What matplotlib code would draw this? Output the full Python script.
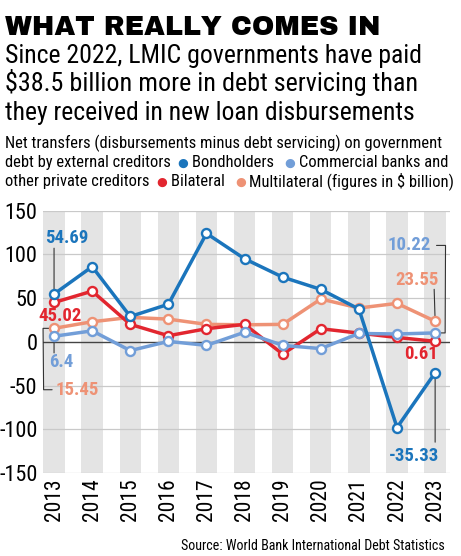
import matplotlib
matplotlib.use("Agg")
import matplotlib.pyplot as plt
from matplotlib import font_manager

# --- data (US$ billion) ---
years = list(range(2013, 2024))
bondholders = [54.69, 86, 29, 43, 124, 95, 74, 60, 37.5, -98, -35.33]
commercial = [6.4, 12.6, -10, 0.5, -4, 11, -4, -7.7, 9.6, 9, 10.22]
bilateral = [45.02, 58, 20, 7, 15, 20, -14, 15, 10, 5, 0.61]
multilateral = [15.45, 23, 28, 26, 20, 19.5, 20, 49, 38.7, 44, 23.55]
yticks = [-150, -100, -50, 0, 50, 100, 150]

title = "WHAT REALLY COMES IN"
subtitle = [
    "Since 2022, LMIC governments have paid",
    "$38.5 billion more in debt servicing than",
    "they received in new loan disbursements",
]
source = "Source: World Bank International Debt Statistics"

C_BOND = "#1b75bc"
C_COMM = "#729ed8"
C_BILAT = "#e2262f"
C_MULTI = "#ee9275"

W, H = 461, 556

installed = {f.name for f in font_manager.fontManager.ttflist}


def pick(*cands):
    for c in cands:
        if c in installed:
            return c
    return "DejaVu Sans"


NARROW = pick("Roboto Condensed", "Barlow Condensed", "Archivo Narrow", "Asap Condensed")
HEAVY = pick("Archivo Black", "Roboto Black", "Lato Black")
DOT = "\u25cf"

fig = plt.figure(figsize=(W / 100, H / 100), dpi=100)
renderer = fig.canvas.get_renderer()


def fig_xy(x, y):
    return x / W, 1 - y / H


def fit_runs(x, y, parts, width, size, family, weight="normal"):
    """Place coloured text runs on one baseline, scaled to a target pixel width."""
    fam = [family, "DejaVu Sans"]

    def measure(sz):
        total = 0
        for s, c, k in parts:
            t = fig.text(0, 0, s, fontsize=sz * k, family=fam, weight=weight)
            total += t.get_window_extent(renderer).width
            t.remove()
        return total

    sz = size * width / measure(size)
    cx = x
    for s, c, k in parts:
        t = fig.text(*fig_xy(cx, y), s, fontsize=sz * k, family=fam, weight=weight,
                     color=c, va="baseline", ha="left")
        cx += t.get_window_extent(renderer).width


# --- header texts ---
fit_runs(5, 35, [(title, "black", 1)], 375, 26, HEAVY)
sub_widths = [417, 413, 410]
for i, line in enumerate(subtitle):
    fit_runs(5, 63 + i * 28.5, [(line, "black", 1)], sub_widths[i], 20, NARROW)

fit_runs(5, 148, [("Net transfers (disbursements minus debt servicing) on government", "black", 1)],
         436, 12, NARROW)
fit_runs(5, 167, [("debt by external creditors  ", "black", 1), (DOT + " ", C_BOND, 0.75),
                  ("Bondholders   ", "black", 1), (DOT + " ", C_COMM, 0.75),
                  ("Commercial banks and", "black", 1)], 443, 12, NARROW)
fit_runs(5, 186, [("other private creditors  ", "black", 1), (DOT + " ", C_BILAT, 0.75),
                  ("Bilateral   ", "black", 1), (DOT + " ", C_MULTI, 0.75),
                  ("Multilateral (figures in $ billion)", "black", 1)], 448, 12, NARROW)

# --- chart ---
ax = fig.add_axes([43 / W, 1 - 473 / H, 407 / W, (473 - 210.7) / H])
ax.set_xlim(2012.71, 2023.39)
ax.set_ylim(-150, 150)

for yr in years:
    ax.axvspan(yr - 0.28, yr + 0.28, color="#e4e4e4", lw=0, zorder=0)
for v in yticks:
    if v == 0:
        ax.axhline(v, color="#444444", lw=1.0, zorder=1)
    else:
        ax.axhline(v, color="#c9c9c9", lw=0.9, zorder=1)

series = [
    (multilateral, C_MULTI),
    (bilateral, C_BILAT),
    (commercial, C_COMM),
    (bondholders, C_BOND),
]
for i, (vals, col) in enumerate(series):
    ax.plot(years, vals, color=col, lw=2.5, marker="o", ms=6.5, mfc="white",
            mec=col, mew=1.7, zorder=3 + i)

for s in ax.spines.values():
    s.set_visible(False)
ax.set_yticks(yticks)
ax.set_yticklabels([str(v) for v in yticks], family=NARROW, fontsize=16)
ax.set_xticks(years)
ax.set_xticklabels([str(y) for y in years], rotation=90, family=NARROW, fontsize=15.5)
ax.tick_params(length=0, pad=4)

lead = dict(arrowstyle="-", color="#333333", lw=0.8)
lab = dict(family=NARROW, weight="bold", fontsize=13.5, textcoords="offset points")


def leader(x, y, dx, dy, style="arc3", shrink=3.5):
    # thin grey line from an offset point to a data point
    ax.annotate("", xy=(x, y), xytext=(dx, dy), textcoords="offset points",
                arrowprops=dict(lead, shrinkA=0, shrinkB=shrink, connectionstyle=style),
                zorder=2)


x0, x1 = years[0], years[-1]
ax.annotate("54.69", xy=(x0, bondholders[0]), xytext=(9, 40), ha="center", va="center",
            color=C_BOND, **lab)
leader(x0, bondholders[0], 0, 33)
ax.annotate("45.02", xy=(x0, bilateral[0]), xytext=(4, -9.5), ha="center", va="center",
            color=C_BILAT, **lab)
ax.annotate("6.4", xy=(x0, commercial[0]), xytext=(5.4, -18.4), ha="center", va="center",
            color=C_COMM, **lab)
leader(x0, commercial[0], 0, -12)
ax.annotate("15.45", xy=(x0, multilateral[0]), xytext=(1, -44.2), ha="left", va="center",
            color=C_MULTI, **lab)
leader(x0, multilateral[0], -1.4, -44.2, "arc,angleA=180,armA=8.5,angleB=180,armB=11,rad=0")
ax.annotate("10.22", xy=(x1, commercial[-1]), xytext=(-18.3, 63), ha="center", va="center",
            color=C_COMM, **lab)
leader(x1, commercial[-1], 1, 63, "arc,angleA=0,armA=9,angleB=0,armB=10,rad=0")
ax.annotate("23.55", xy=(x1, multilateral[-1]), xytext=(-13.3, 29.9), ha="center", va="center",
            color=C_MULTI, **lab)
leader(x1, multilateral[-1], -0.7, 23)
ax.annotate("0.61", xy=(x1, bilateral[-1]), xytext=(-10.4, -9), ha="center", va="center",
            color=C_BILAT, **lab)
ax.annotate("-35.33", xy=(x1, bondholders[-1]), xytext=(-15.1, -60), ha="center", va="center",
            color=C_BOND, **lab)
leader(x1, bondholders[-1], 0, -50)

fit_runs(181, 550, [(source, "black", 1)], 265, 11, NARROW)

fig.savefig("out.png", dpi=100)
